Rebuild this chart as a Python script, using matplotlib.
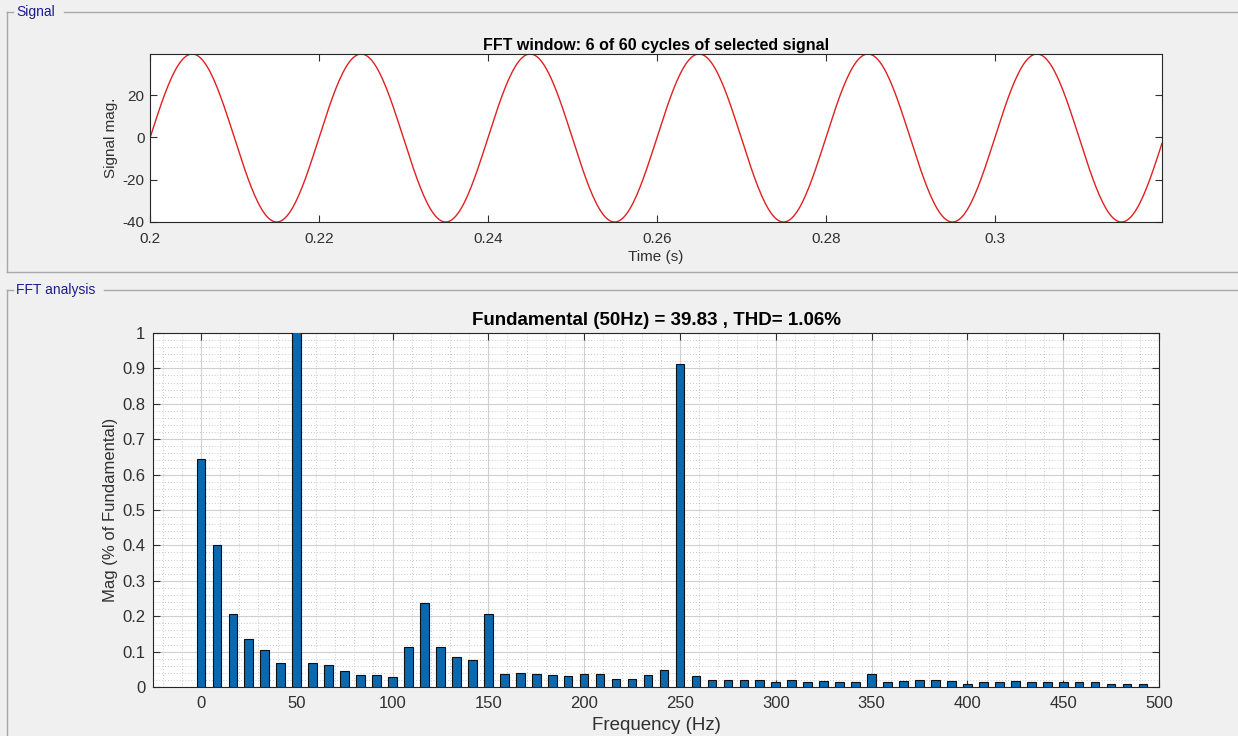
# FFT analysis window: signal plus harmonic spectrum

import matplotlib
matplotlib.use("Agg")
import matplotlib.pyplot as plt
import numpy as np
from matplotlib.lines import Line2D

# signal (fundamental from FFT title)
fundamental_hz = 50
fundamental_mag = 39.83
dc_offset = -0.25
window_start = 0.2
window_cycles = 6
sample_dt = 0.0002

# spectrum, % of fundamental, bins of 50/6 Hz
freq_step = 50 / 6
mags = [0.643, 0.401, 0.207, 0.137, 0.104, 0.069, 100.0, 0.069, 0.061, 0.046,
        0.033, 0.033, 0.027, 0.113, 0.237, 0.113, 0.085, 0.075, 0.207, 0.036,
        0.040, 0.036, 0.033, 0.030, 0.036, 0.036, 0.024, 0.024, 0.033, 0.049,
        0.913, 0.030, 0.021, 0.021, 0.021, 0.021, 0.013, 0.019, 0.013, 0.016,
        0.013, 0.013, 0.038, 0.013, 0.016, 0.019, 0.019, 0.016, 0.009, 0.013,
        0.013, 0.016, 0.013, 0.013, 0.013, 0.013, 0.013, 0.009, 0.009, 0.009]

sig_xticks = [0.2, 0.22, 0.24, 0.26, 0.28, 0.3]
sig_xlabels = ['0.2', '0.22', '0.24', '0.26', '0.28', '0.3']
sig_yticks = [-40, -20, 0, 20]
fft_xticks = list(range(0, 501, 50))
fft_yticks = [0, 0.1, 0.2, 0.3, 0.4, 0.5, 0.6, 0.7, 0.8, 0.9, 1]
fft_ylabels = ['0', '0.1', '0.2', '0.3', '0.4', '0.5', '0.6', '0.7', '0.8', '0.9', '1']

plt.rcParams['font.family'] = ['Liberation Sans', 'DejaVu Sans']
plt.rcParams['axes.unicode_minus'] = False
txt_col = '#303030'
bg = '#f0f0f0'

W, H = 1238, 736
fig = plt.figure(figsize=(W / 100, H / 100), dpi=100, facecolor=bg)


def fx(px):
    return px / W


def fy(py):
    return 1 - py / H


# group panels
pc = '#a8a8a8'
for seg in [((7, 12), (13, 12)), ((64, 12), (1238, 12)), ((7, 12), (7, 272)), ((7, 272), (1238, 272)),
            ((7, 290), (13, 290)), ((104, 290), (1238, 290)), ((7, 290), (7, 736))]:
    (x0, y0), (x1, y1) = seg
    fig.add_artist(Line2D([fx(x0), fx(x1)], [fy(y0), fy(y1)], color=pc, lw=1))
fig.text(fx(16), fy(12), 'Signal', color='#1c1c8c', fontsize=10, va='center', ha='left')
fig.text(fx(16), fy(290), 'FFT analysis', color='#1c1c8c', fontsize=10, va='center', ha='left')


def style(ax, size, xpad, ypad):
    ax.tick_params(which='major', direction='in', length=5, width=0.8, top=True, right=True,
                   colors=txt_col, labelsize=size)
    ax.tick_params(axis='x', which='major', pad=xpad)
    ax.tick_params(axis='y', which='major', pad=ypad)
    for s in ax.spines.values():
        s.set_color('#262626')
        s.set_linewidth(0.8)


# signal axes
ax1 = fig.add_axes([fx(150), fy(222), fx(1162 - 150), (222 - 54) / H])
t = np.arange(window_start, window_start + window_cycles / fundamental_hz, sample_dt)
sig = dc_offset + fundamental_mag * np.sin(2 * np.pi * fundamental_hz * (t - window_start))
ax1.plot(t, sig, color='#e02020', lw=1)
ax1.set_xlim(t[0], t[-1])
ax1.set_ylim(sig.min(), sig.max())
ax1.set_xticks(sig_xticks)
ax1.set_xticklabels(sig_xlabels)
ax1.set_yticks(sig_yticks)
style(ax1, 11, 7, 4)
ax1.set_xlabel('Time (s)', fontsize=11, color=txt_col, labelpad=3)
ax1.set_ylabel('Signal mag.', fontsize=11, color=txt_col, labelpad=3)
ax1.set_title('FFT window: 6 of 60 cycles of selected signal', fontsize=11.5, fontweight='bold',
              color='black', pad=3)

# spectrum axes
ax2 = fig.add_axes([fx(153), fy(687), fx(1159 - 153), (687 - 333) / H])
freqs = np.arange(len(mags)) * freq_step
ax2.bar(freqs, mags, width=4.5, color='#0868b0', edgecolor='#101010', linewidth=0.8, zorder=3)
ax2.set_xlim(-25, 500)
ax2.set_ylim(0, 1)
ax2.set_xticks(fft_xticks)
ax2.set_yticks(fft_yticks)
ax2.set_yticklabels(fft_ylabels)
ax2.set_xticks(np.arange(-20, 501, 10), minor=True)
ax2.set_yticks(np.arange(0, 1.001, 0.02), minor=True)
ax2.tick_params(which='minor', length=0)
ax2.grid(True, which='major', color='#d0d0d0', lw=0.8, zorder=0)
ax2.grid(True, which='minor', color='#b8b8b8', lw=0.6, linestyle=(0, (1, 2.5)), zorder=0)
ax2.set_axisbelow(True)
style(ax2, 12, 6.5, 5.5)
ax2.set_xlabel('Frequency (Hz)', fontsize=13.5, color=txt_col, labelpad=4)
ax2.set_ylabel('Mag (% of Fundamental)', fontsize=12, color=txt_col, labelpad=3)
ax2.set_title('Fundamental (50Hz) = 39.83 , THD= 1.06%', fontsize=13.5, fontweight='bold',
              color='black', pad=6)

fig.savefig('out.png', dpi=100, facecolor=bg)
